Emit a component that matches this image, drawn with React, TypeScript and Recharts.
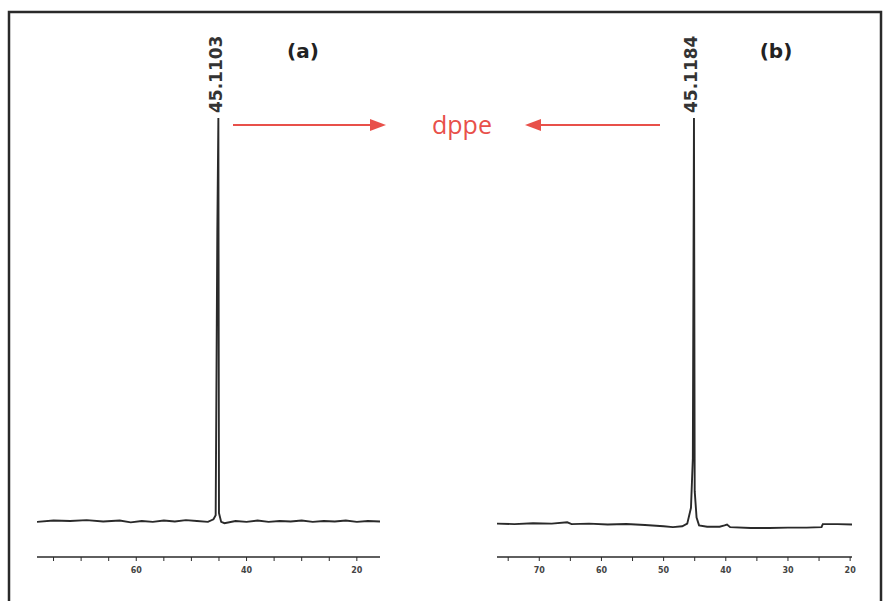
import React from "react";
import { LineChart, Line, XAxis, YAxis } from "recharts";

// Spectrum (a): chemical shift (ppm) vs intensity
const ppmA = [78, 75, 72, 69, 66, 63, 61, 59, 57, 55, 53, 51, 49, 47, 46, 45.6, 45.3, 45.1103, 45.0, 44.6, 44.0, 42, 40, 38, 36, 34, 32, 30, 28, 26, 24, 22, 20, 18, 15.8];
const intA = [8.0, 8.3, 8.2, 8.4, 8.1, 8.3, 7.9, 8.2, 8.0, 8.3, 8.1, 8.4, 8.2, 8.0, 8.6, 9.5, 74.5, 100, 10, 8.0, 7.7, 8.2, 8.0, 8.3, 8.0, 8.2, 8.1, 8.3, 8.0, 8.2, 8.1, 8.3, 8.0, 8.2, 8.1];

// Spectrum (b)
const ppmB = [76.8, 74, 71, 68, 65.5, 64.8, 62, 59, 56, 53, 50, 48.5, 47, 46.2, 45.6, 45.3, 45.1184, 45.0, 44.7, 44.3, 43, 41, 40.2, 39.8, 39.3, 36, 33, 30, 27, 24.6, 24.4, 22, 19.7];
const intB = [7.6, 7.5, 7.7, 7.6, 7.9, 7.5, 7.6, 7.4, 7.5, 7.3, 7.0, 6.8, 7.0, 7.6, 11.2, 22.5, 100, 15, 9, 7.2, 6.9, 6.9, 7.2, 7.4, 6.8, 6.6, 6.6, 6.7, 6.7, 6.8, 7.5, 7.5, 7.4];

const ticksA = [75, 70, 65, 60, 55, 50, 45, 40, 35, 30, 25, 20];
const ticksB = [75, 70, 65, 60, 55, 50, 45, 40, 35, 30, 25, 20];
const labelEveryA = 20;
const labelEveryB = 10;

const peakA = { ppm: 45.1103, label: "45.1103" };
const peakB = { ppm: 45.1184, label: "45.1184" };

const panelLabels = ["(a)", "(b)"];
const compoundName = "dppe";

const dataA = ppmA.map((p, i) => ({ ppm: p, v: intA[i] }));
const dataB = ppmB.map((p, i) => ({ ppm: p, v: intB[i] }));

const RED = "#e8504a";
const INK = "#2a2a2a";

function makePeakLabel(peakPpm: number, text: string, data: { ppm: number }[]) {
  const idx = data.findIndex((d) => d.ppm === peakPpm);
  return (props: any) => {
    if (props.index !== idx) return <g />;
    const x = props.x - 2.5;
    const y = props.y - 5;
    return (
      <text
        x={x}
        y={y}
        transform={`rotate(-90 ${x} ${y})`}
        textAnchor="start"
        dominantBaseline="central"
        fontFamily="DejaVu Sans, Verdana, sans-serif"
        fontWeight="bold"
        fontSize={17}
        fill="#333"
      >
        {text}
      </text>
    );
  };
}

function Panel(props: {
  data: any[];
  domain: [number, number];
  ticks: number[];
  every: number;
  peak: { ppm: number; label: string };
  left: number;
  width: number;
  marginLeft: number;
  marginRight: number;
}) {
  const { data, domain, ticks, every, peak, left, width, marginLeft, marginRight } = props;
  return (
    <div style={{ position: "absolute", left, top: 0 }}>
      <LineChart
        width={width}
        height={601}
        data={data}
        margin={{ top: 118, right: marginRight, bottom: 14, left: marginLeft }}
      >
        <XAxis
          dataKey="ppm"
          type="number"
          domain={domain}
          reversed
          ticks={ticks}
          interval={0}
          allowDataOverflow
          height={30}
          tickSize={4}
          tickMargin={6}
          tickFormatter={(v: number) => (v % every === 0 ? String(v) : "")}
          axisLine={{ stroke: INK, strokeWidth: 1.6 }}
          tickLine={{ stroke: INK, strokeWidth: 1 }}
          tick={{ fontSize: 8, fontWeight: "bold", fill: "#444", fontFamily: "DejaVu Sans, sans-serif" }}
        />
        <YAxis hide domain={[0, 100]} allowDataOverflow />
        <Line
          type="linear"
          dataKey="v"
          stroke={INK}
          strokeWidth={1.9}
          dot={false}
          isAnimationActive={false}
          label={makePeakLabel(peak.ppm, peak.label, data)}
        />
      </LineChart>
    </div>
  );
}

export default function App() {
  return (
    <div style={{ position: "absolute", left: 0, top: 0, width: 883, height: 601, background: "#fff", overflow: "hidden" }}>
      <Panel
        data={dataA}
        domain={[15.8, 78]}
        ticks={ticksA}
        every={labelEveryA}
        peak={peakA}
        left={0}
        width={440}
        marginLeft={37}
        marginRight={60}
      />
      <Panel
        data={dataB}
        domain={[19.7, 76.8]}
        ticks={ticksB}
        every={labelEveryB}
        peak={peakB}
        left={440}
        width={443}
        marginLeft={57}
        marginRight={31}
      />
      <svg width={883} height={601} style={{ position: "absolute", left: 0, top: 0, pointerEvents: "none" }}>
        <rect x={9} y={12} width={872} height={620} fill="none" stroke={INK} strokeWidth={2.5} />
        <text x={303} y={58} textAnchor="middle" fontFamily="DejaVu Sans, Verdana, sans-serif" fontWeight="bold" fontSize={20} fill="#222">
          {panelLabels[0]}
        </text>
        <text x={776} y={58} textAnchor="middle" fontFamily="DejaVu Sans, Verdana, sans-serif" fontWeight="bold" fontSize={20} fill="#222">
          {panelLabels[1]}
        </text>
        <text x={462} y={134} textAnchor="middle" fontFamily="Open Sans, Noto Sans, sans-serif" fontSize={25} fill={RED}>
          {compoundName}
        </text>
        <line x1={233} y1={125} x2={374} y2={125} stroke={RED} strokeWidth={2} />
        <polygon points="386,125 370,119 370,131" fill={RED} />
        <line x1={538} y1={125} x2={660} y2={125} stroke={RED} strokeWidth={2} />
        <polygon points="525,125 541,119 541,131" fill={RED} />
      </svg>
    </div>
  );
}
